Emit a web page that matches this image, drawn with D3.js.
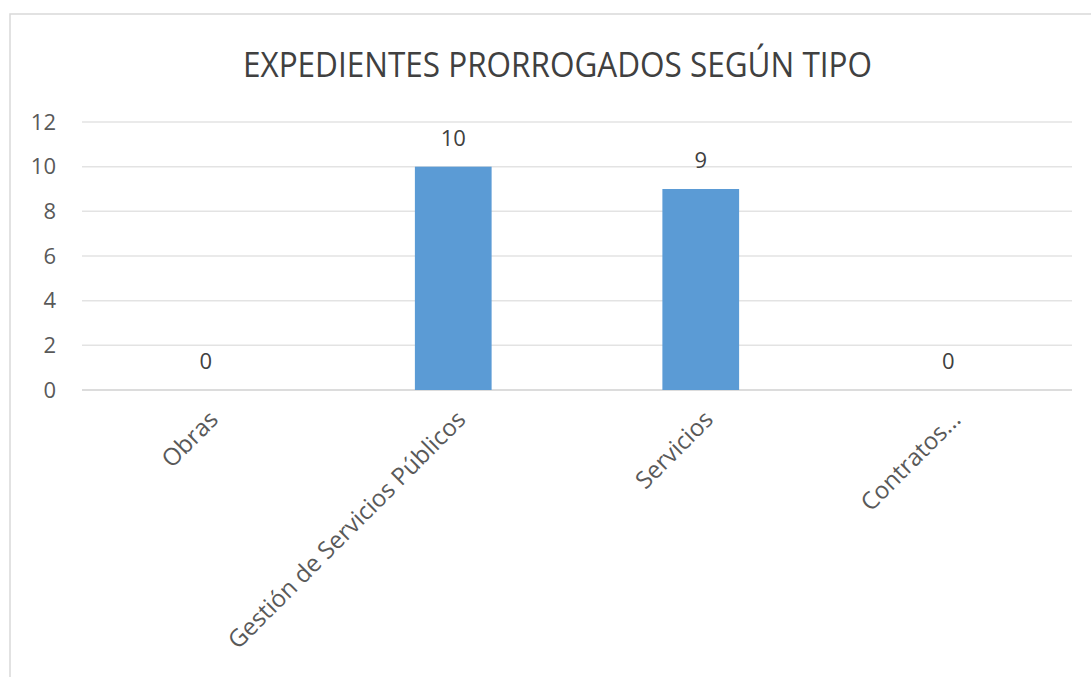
<!DOCTYPE html>
<html><head><meta charset="utf-8">
<script src="https://cdn.jsdelivr.net/npm/d3@7"></script>
<style>body{margin:0;background:#fff}svg{display:block}</style>
</head><body>
<svg id="c" width="1091" height="677"></svg>
<script>
const categories = ["Obras", "Gestión de Servicios Públicos", "Servicios", "Contratos..."];
const values = [0, 10, 9, 0];
const yTicks = [0, 2, 4, 6, 8, 10, 12];
const title = "EXPEDIENTES PRORROGADOS SEGÚN TIPO";

(function () {
const svg = d3.select("#c");
const font = "'Open Sans', sans-serif";
const plotLeft = 82, plotRight = 1072, plotTop = 122, plotBottom = 390;

svg.append("rect").attr("x", 10).attr("y", 14).attr("width", 1100).attr("height", 700)
  .attr("fill", "#fff").attr("stroke", "#d9d9d9").attr("stroke-width", 1.5);

svg.append("text").attr("x", 243).attr("y", 77).attr("text-anchor", "start")
  .attr("font-family", font).attr("font-size", 35).attr("fill", "#404040")
  .attr("textLength", 629).attr("lengthAdjust", "spacingAndGlyphs").text(title);

const x = d3.scaleBand().domain(categories).range([plotLeft, plotRight]).paddingInner(0.69).paddingOuter(0.345);
const y = d3.scaleLinear().domain([0, 12]).range([plotBottom, plotTop]);

const grid = svg.append("g");
grid.selectAll("line").data(yTicks).join("line")
  .attr("x1", plotLeft).attr("x2", plotRight).attr("y1", d => y(d)).attr("y2", d => y(d))
  .attr("stroke", d => d === 0 ? "#d0d0d0" : "#e3e3e3").attr("stroke-width", 1.5);

const yAxis = svg.append("g").attr("transform", `translate(${plotLeft},0)`)
  .call(d3.axisLeft(y).tickValues(yTicks).tickSize(0).tickPadding(26));
yAxis.select(".domain").remove();
yAxis.selectAll("text").attr("font-family", font).attr("font-size", 22).attr("fill", "#595959");

svg.append("g").selectAll("rect").data(values).join("rect")
  .attr("x", (d, i) => x(categories[i])).attr("width", x.bandwidth())
  .attr("y", d => y(d)).attr("height", d => plotBottom - y(d))
  .attr("fill", "#5b9bd5");

svg.append("g").selectAll("text").data(values).join("text")
  .attr("x", (d, i) => x(categories[i]) + x.bandwidth() / 2)
  .attr("y", d => y(d) - 21)
  .attr("text-anchor", "middle").attr("font-family", font).attr("font-size", 22).attr("fill", "#404040")
  .text(d => d);

const xAxis = svg.append("g").attr("transform", `translate(0,${plotBottom})`)
  .call(d3.axisBottom(x).tickSize(0).tickPadding(0));
xAxis.select(".domain").remove();
xAxis.selectAll("text")
  .attr("font-family", font).attr("font-size", 24).attr("fill", "#595959")
  .attr("text-anchor", "end").attr("dy", "0.35em")
  .attr("transform", "translate(8,25) rotate(-45)");
})();
</script>
</body></html>
